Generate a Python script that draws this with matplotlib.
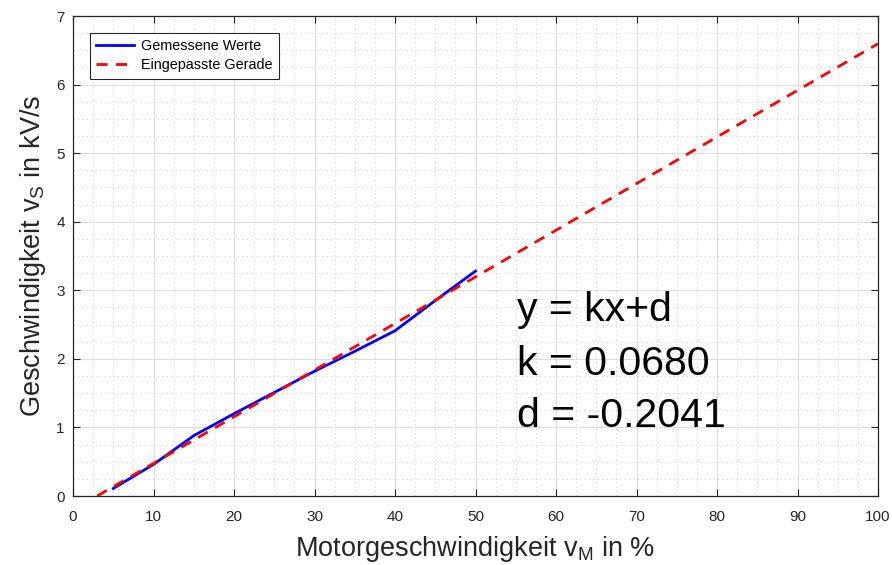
import matplotlib
matplotlib.use("Agg")
import matplotlib.pyplot as plt
from matplotlib.ticker import MultipleLocator
import numpy as np

# Data
motor_speed = [5, 10, 15, 20, 25, 30, 35, 40, 45, 50]
measured = [0.11, 0.46, 0.88, 1.20, 1.51, 1.82, 2.11, 2.41, 2.85, 3.28]
k = 0.0680
d = -0.2041
fit_x = [-d / k, 100]
fit_y = [k * x + d for x in fit_x]

xticks = [0, 10, 20, 30, 40, 50, 60, 70, 80, 90, 100]
yticks = [0, 1, 2, 3, 4, 5, 6, 7]

plt.rcParams['font.family'] = ['Liberation Sans', 'DejaVu Sans']
plt.rcParams['mathtext.fontset'] = 'custom'
plt.rcParams['mathtext.rm'] = 'Liberation Sans'
plt.rcParams['mathtext.it'] = 'Liberation Sans'

fig = plt.figure(figsize=(8.92, 5.65), dpi=100)
ax = fig.add_axes([73/892, 1 - 496/565, (878 - 73)/892, (496 - 16)/565])

ax.plot(motor_speed, measured, color='#0000ff', lw=2, label='Gemessene Werte', zorder=3)
ax.plot(fit_x, fit_y, color='#ff0000', lw=2, ls=(0, (4, 3)), label='Eingepasste Gerade', zorder=4)

ax.set_xlim(0, 100)
ax.set_ylim(0, 7)
ax.set_xticks(xticks)
ax.set_yticks(yticks)
ax.xaxis.set_minor_locator(MultipleLocator(2.5))
ax.yaxis.set_minor_locator(MultipleLocator(0.25))

ax.grid(which='major', color='#dcdcdc', lw=0.8, ls='-')
ax.grid(which='minor', color='#cfcfcf', lw=0.8, ls=(0, (1, 3)))
ax.set_axisbelow(True)

ax.tick_params(which='major', direction='in', length=5, width=0.8, top=True, right=True,
               labelsize=11, colors='#262626')
ax.tick_params(axis='x', which='major', pad=10)
ax.tick_params(axis='y', which='major', pad=6)
ax.tick_params(which='minor', direction='in', length=0, top=True, right=True)
for s in ax.spines.values():
    s.set_color('#262626')
    s.set_linewidth(0.9)

ax.set_xlabel(r'Motorgeschwindigkeit v$_\mathrm{M}$ in %', fontsize=19.5, color='#262626', labelpad=7)
ax.set_ylabel(r'Geschwindigkeit v$_\mathrm{S}$ in kV/s', fontsize=19.5, color='#262626', labelpad=6)

leg = ax.legend(loc='upper left', bbox_to_anchor=(0.021, 0.965), fontsize=10.4, frameon=True,
                fancybox=False, framealpha=1, edgecolor='#262626', borderpad=0.45,
                handlelength=2.6, handletextpad=0.5, labelspacing=0.35, borderaxespad=0)
leg.get_frame().set_linewidth(0.8)

tx = 55.2
for i, s in enumerate(['y = kx+d', f'k = {k:.4f}', f'd = {d:.4f}']):
    ax.text(tx, [2.55, 1.77, 1.0][i], s, fontsize=29.5, color='black', va='baseline', ha='left')

fig.savefig('out.png', dpi=100)
